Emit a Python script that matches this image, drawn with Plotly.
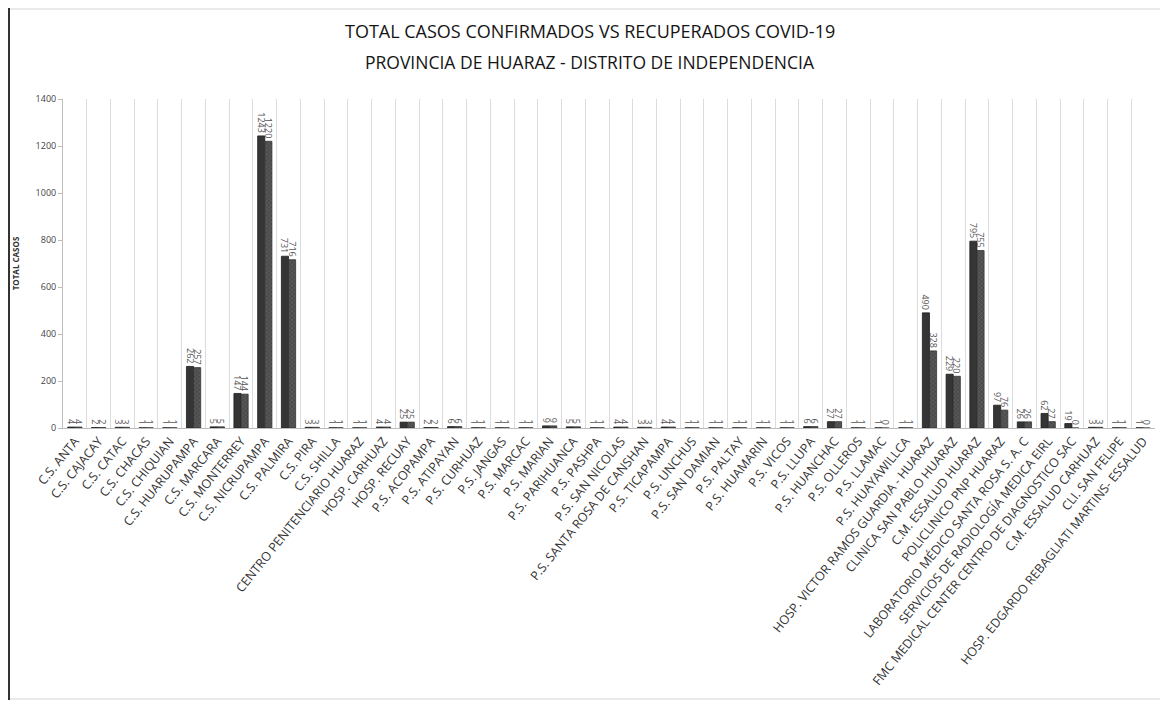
import plotly.graph_objects as go

categories = [
    "C.S. ANTA", "C.S. CAJACAY", "C.S. CATAC", "C.S. CHACAS", "C.S. CHIQUIAN",
    "C.S. HUARUPAMPA", "C.S. MARCARA", "C.S. MONTERREY", "C.S. NICRUPAMPA", "C.S. PALMIRA",
    "C.S. PIRA", "C.S. SHILLA", "CENTRO PENITENCIARIO HUARAZ", "HOSP. CARHUAZ", "HOSP. RECUAY",
    "P.S. ACOPAMPA", "P.S. ATIPAYAN", "P.S. CURHUAZ", "P.S. JANGAS", "P.S. MARCAC",
    "P.S. MARIAN", "P.S. PARIHUANCA", "P.S. PASHPA", "P.S. SAN NICOLAS", "P.S. SANTA ROSA DE CANSHAN",
    "P.S. TICAPAMPA", "P.S. UNCHUS", "P.S. SAN DAMIAN", "P.S. PALTAY", "P.S. HUAMARIN",
    "P.S. VICOS", "P.S. LLUPA", "P.S. HUANCHAC", "P.S. OLLEROS", "P.S. LLAMAC",
    "P.S. HUAYAWILLCA", "HOSP. VICTOR RAMOS GUARDIA - HUARAZ", "CLINICA SAN PABLO HUARAZ",
    "C.M. ESSALUD HUARAZ", "POLICLINICO PNP HUARAZ", "LABORATORIO MÉDICO SANTA ROSA S. A. C",
    "SERVICIOS DE RADIOLOGÍA MEDICA EIRL", "FMC MEDICAL CENTER CENTRO DE DIAGNOSTICO SAC",
    "C.M. ESSALUD CARHUAZ", "CLI. SAN FELIPE", "HOSP. EDGARDO REBAGLIATI MARTINS- ESSALUD",
]

confirmados = [4, 2, 3, 1, 1, 262, 5, 147, 1243, 731,
               3, 1, 1, 4, 25, 2, 6, 1, 1, 1,
               9, 5, 1, 4, 3, 4, 1, 1, 1, 1,
               1, 6, 27, 1, 1, 1, 490, 229, 795, 97,
               26, 62, 19, 3, 1, 1]

recuperados = [4, 2, 3, 1, 1, 257, 5, 144, 1220, 716,
               3, 1, 1, 4, 25, 2, 6, 1, 1, 1,
               9, 5, 1, 4, 3, 4, 1, 1, 1, 1,
               1, 6, 27, 1, 0, 1, 328, 220, 755, 76,
               26, 27, 0, 3, 1, 0]

y_ticks = [0, 200, 400, 600, 800, 1000, 1200, 1400]

FONT = "Open Sans"

fig = go.Figure()
fig.add_trace(go.Bar(
    x=categories, y=confirmados, name="CONFIRMADOS",
    marker=dict(color="#353535", line=dict(color="#1e1e1e", width=0.8)),
    text=confirmados, textposition="outside", textangle=90,
    textfont=dict(family=FONT, size=9, color="#555555"),
    cliponaxis=False,
))
fig.add_trace(go.Bar(
    x=categories, y=recuperados, name="RECUPERADOS",
    marker=dict(color="#5c5c5c", line=dict(color="#333333", width=0.8),
                pattern=dict(shape="x", fgcolor="#8a8a8a", bgcolor="#4a4a4a", size=3, solidity=0.3)),
    text=recuperados, textposition="outside", textangle=90,
    textfont=dict(family=FONT, size=9, color="#555555"),
    cliponaxis=False,
))

# page has an 8px body margin, so the layout is sized and placed to compensate
OFF = 8
W, H = 1168 - OFF, 701 - OFF
ml, mt = 63 - OFF, 99 - OFF
plot_bottom, plot_right = 428 - OFF, 1155 - OFF
mr, mb = W - plot_right, H - plot_bottom
pw, ph = W - ml - mr, H - mt - mb

def px_x(x):
    return (x - OFF - ml) / pw

def px_y(y):
    return (plot_bottom - (y - OFF)) / ph

fig.update_layout(
    width=W, height=H,
    margin=dict(l=ml, r=mr, t=mt, b=mb),
    paper_bgcolor="white", plot_bgcolor="white",
    showlegend=False,
    barmode="group", bargap=0.4, bargroupgap=0.0,
    uniformtext=dict(minsize=8, mode="show"),
    font=dict(family=FONT, color="#333333"),
    xaxis=dict(
        type="category", tickson="boundaries", tickangle=-51,
        tickfont=dict(family=FONT, size=12.5, color="#333333"),
        showgrid=True, gridcolor="#dcdcdc", gridwidth=1,
        showline=True, linecolor="#bdbdbd", linewidth=1,
        ticks="", automargin=False,
    ),
    yaxis=dict(
        range=[0, 1400], tickvals=y_ticks, ticktext=[str(v) for v in y_ticks],
        tickfont=dict(family=FONT, size=9, color="#444444"),
        showgrid=False, showline=True, linecolor="#bdbdbd", linewidth=1,
        ticks="outside", ticklen=4, tickcolor="#bdbdbd", zeroline=False,
        title=dict(text="<b>TOTAL CASOS</b>", font=dict(family=FONT, size=8, color="#333333"), standoff=14),
        automargin=False,
    ),
    annotations=[
        dict(text="TOTAL CASOS CONFIRMADOS VS RECUPERADOS COVID-19",
             xref="paper", yref="paper", x=px_x(590), y=px_y(31),
             showarrow=False, font=dict(family=FONT, size=18, color="#151515"),
             xanchor="center", yanchor="middle"),
        dict(text="PROVINCIA DE HUARAZ - DISTRITO DE INDEPENDENCIA",
             xref="paper", yref="paper", x=px_x(590), y=px_y(62),
             showarrow=False, font=dict(family=FONT, size=17.5, color="#151515"),
             xanchor="center", yanchor="middle"),
    ],
    shapes=[
        dict(type="rect", xref="paper", yref="paper",
             x0=px_x(9), x1=px_x(1166), y0=px_y(699), y1=px_y(9),
             line=dict(color="#d5d5d5", width=1)),
        dict(type="line", xref="paper", yref="paper",
             x0=px_x(9), x1=px_x(9), y0=px_y(700), y1=px_y(8),
             line=dict(color="#333333", width=2)),
    ],
)

fig.write_html("out.html")
